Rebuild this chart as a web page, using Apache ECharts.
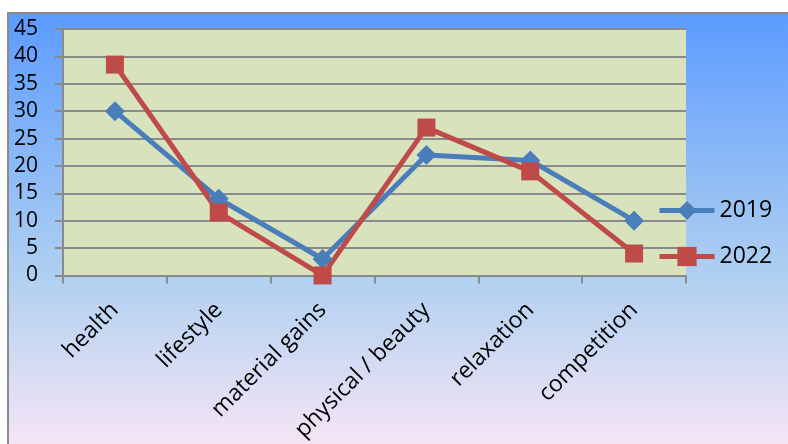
<!DOCTYPE html>
<html><head><meta charset="utf-8">
<style>html,body{margin:0;padding:0;background:#fff}#c{width:788px;height:444px}</style>
<script src="https://cdn.jsdelivr.net/npm/echarts@6/dist/echarts.min.js"></script>
</head><body><div id="c"></div>
<script>
const categories = ['health','lifestyle','material gains','physical / beauty','relaxation','competition'];
const series2019 = [30, 14, 3, 22, 21, 10];
const series2022 = [38.5, 11.5, 0, 27, 19, 4];
const yTicks = {min: 0, max: 45, interval: 5};

const chart = echarts.init(document.getElementById('c'));
const font = '"Open Sans", sans-serif';
chart.setOption({
  backgroundColor: '#ffffff',
  animation: false,
  graphic: [{
    type: 'rect', z: -10, silent: true,
    shape: {x: 8, y: 13, width: 790, height: 440},
    style: {
      fill: new echarts.graphic.LinearGradient(0, 0, 0, 1, [
        {offset: 0, color: '#5b9bff'},
        {offset: 0.6, color: '#b0d0f0'},
        {offset: 1, color: '#f9e6f6'}
      ]),
      stroke: '#8a8a8a', lineWidth: 2
    }
  }],
  grid: {left: 63, right: 102, top: 29, bottom: 168, show: true, backgroundColor: '#d8e2bd', borderWidth: 0},
  legend: {
    orient: 'vertical', left: 652, top: 194, itemGap: 23,
    itemWidth: 55, itemHeight: 24,
    lineStyle: {width: 5},
    textStyle: {fontFamily: font, fontSize: 23, color: '#000'},
    data: ['2019', '2022']
  },
  xAxis: {
    type: 'category', data: categories, boundaryGap: true,
    axisLine: {lineStyle: {color: '#8a8a8a', width: 2}},
    axisTick: {show: true, length: 8, lineStyle: {color: '#8a8a8a', width: 2}},
    axisLabel: {rotate: 45, fontFamily: font, fontSize: 23, color: '#000', margin: 31, interval: 0}
  },
  yAxis: {
    type: 'value', min: yTicks.min, max: yTicks.max, interval: yTicks.interval,
    axisLine: {show: true, lineStyle: {color: '#8a8a8a', width: 2}},
    axisTick: {show: true, length: 8, lineStyle: {color: '#8a8a8a', width: 2}},
    splitLine: {lineStyle: {color: '#8a8a8a', width: 2}},
    axisLabel: {fontFamily: font, fontSize: 21, color: '#000', margin: 25}
  },
  series: [
    {name: '2019', type: 'line', data: series2019, symbol: 'diamond', symbolSize: 20,
     lineStyle: {color: '#4a7ebb', width: 5}, itemStyle: {color: '#4a7ebb'}},
    {name: '2022', type: 'line', data: series2022, symbol: 'rect', symbolSize: 18,
     lineStyle: {color: '#be4b48', width: 5}, itemStyle: {color: '#be4b48'}}
  ]
});
</script></body></html>
